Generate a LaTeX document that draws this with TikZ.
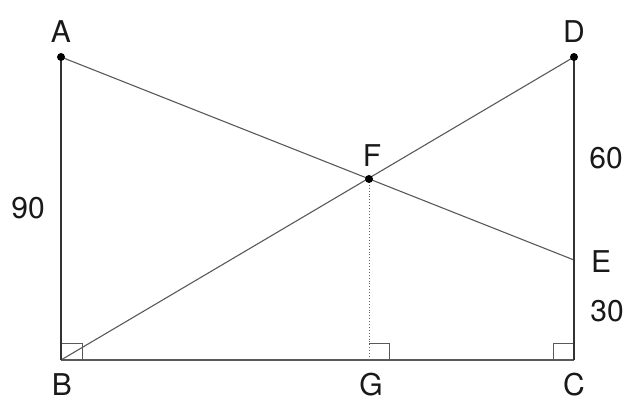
\documentclass[tikz,border=0pt]{standalone}
\usepackage{fontspec}
\setmainfont{TeX Gyre Heros}
\begin{document}
\begin{tikzpicture}[x=1pt,y=-1pt,
  side/.style={line width=2.2pt,black!80},
  thinline/.style={line width=1.1pt,black!65},
  ramark/.style={line width=0.9pt,black!65},
  dotpt/.style={circle,fill=black,inner sep=0pt,minimum size=8pt},
  lbl/.style={font=\fontsize{30}{30}\selectfont,inner sep=0pt,text=black!90}]
\useasboundingbox (0,0) rectangle (629,401);
\coordinate (A) at (61,57);
\coordinate (B) at (61,360);
\coordinate (C) at (574,360);
\coordinate (D) at (574,57);
\coordinate (E) at (574,260);
\coordinate (F) at (369,179);
\coordinate (G) at (369,360);
% right-angle marks
\draw[ramark] (B) ++(0,-17) -- ++(21,0) -- ++(0,17);
\draw[ramark] (G) ++(0,-17) -- ++(20,0) -- ++(0,17);
\draw[ramark] (C) ++(0,-17) -- ++(-21,0) -- ++(0,17);
% lines
\draw[thinline] (A) -- (E);
\draw[thinline] (B) -- (D);
\draw[thinline] (B) -- (C);
\draw[line width=0.9pt,black!60,dotted] (F) -- (G);
\draw[side] (A) -- (B);
\draw[side] (D) -- (C);
% points
\node[dotpt] (pA) at (A) {};
\node[dotpt] (pD) at (D) {};
\node[dotpt] (pF) at (F) {};
% labels
\node[lbl] (lA) at (61,32) {A};
\node[lbl] (lD) at (574,32) {D};
\node[lbl] (lB) at (62,385) {B};
\node[lbl] (lG) at (371,385) {G};
\node[lbl] (lC) at (574,385) {C};
\node[lbl] (lF) at (372,156) {F};
\node[lbl] (lE) at (601,262) {E};
\node[lbl] (l60) at (606,158) {60};
\node[lbl] (l30) at (607,311) {30};
\node[lbl] (l90) at (28,208) {90};
\end{tikzpicture}
\end{document}
